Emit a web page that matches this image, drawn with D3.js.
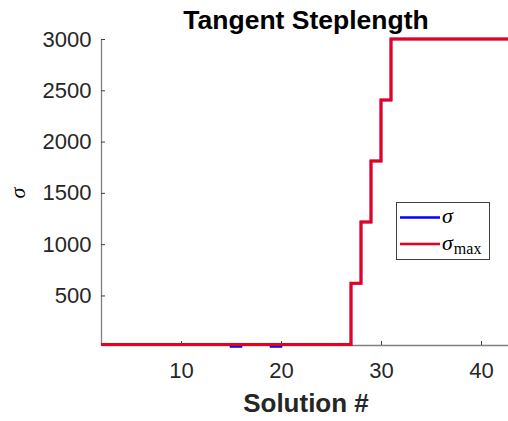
<!DOCTYPE html>
<html>
<head>
<meta charset="utf-8">
<script src="https://cdn.jsdelivr.net/npm/d3@7"></script>
<style>
  body { margin: 0; background: #fff; }
  svg { display: block; }
</style>
</head>
<body>
<script>
// solution numbers and step values (stairs: value holds until next solution)
var solutions = [2, 3, 4, 5, 6, 7, 8, 9, 10, 11, 12, 13, 14, 15, 16, 17, 18, 19, 20, 21, 22,
                 23, 24, 25, 26, 27, 28, 29, 30, 31, 32, 33, 34, 35, 36, 37, 38, 39, 40, 41, 42, 43];
var sigmaMax = [22, 22, 22, 22, 22, 22, 22, 22, 22, 22, 22, 22, 22, 22, 22, 22, 22, 22, 22, 22, 22,
                22, 22, 22, 22, 620, 1215, 1810, 2405, 3000, 3000, 3000, 3000, 3000, 3000, 3000, 3000, 3000, 3000, 3000, 3000, 3000];
var sigma = [22, 22, 22, 22, 22, 22, 22, 22, 22, 22, 22, 22, 22, 3, 22, 22, 22, 3, 22, 22, 22,
             22, 22, 22, 22, 620, 1215, 1810, 2405, 3000, 3000, 3000, 3000, 3000, 3000, 3000, 3000, 3000, 3000, 3000, 3000, 3000];
var xTicks = [10, 20, 30, 40];
var yTicks = [500, 1000, 1500, 2000, 2500, 3000];

var width = 508, height = 421;
var plotLeft = 101, plotRight = 511, plotTop = 39, plotBottom = 345;

var svg = d3.select("body").append("svg")
    .attr("width", width)
    .attr("height", height);

var x = d3.scaleLinear().domain([2, 43]).range([plotLeft, plotRight]);
var y = d3.scaleLinear().domain([17, 3000]).range([plotBottom, plotTop]);

var line = d3.line()
    .x(function(d) { return x(d[0]); })
    .y(function(d) { return y(d[1]); })
    .curve(d3.curveStepAfter);

function pts(vals) {
    return solutions.map(function(s, i) { return [s, vals[i]]; });
}

// axes
var xAxis = svg.append("g")
    .attr("transform", "translate(0," + plotBottom + ")")
    .call(d3.axisBottom(x).tickValues(xTicks).tickFormat(d3.format("d"))
        .tickSizeInner(-4).tickSizeOuter(0));
var yAxis = svg.append("g")
    .attr("transform", "translate(" + plotLeft + ",0)")
    .call(d3.axisLeft(y).tickValues(yTicks).tickFormat(d3.format("d"))
        .tickSizeInner(-4).tickSizeOuter(0).tickPadding(9));

[xAxis, yAxis].forEach(function(g) {
    g.attr("font-size", null).attr("font-family", null);
    g.select(".domain").attr("stroke", "#808080").attr("stroke-width", 1.3);
    g.selectAll(".tick line").attr("stroke", "#404040");
    g.selectAll(".tick text")
        .attr("fill", "#262626")
        .style("font-family", "'Liberation Sans', Arial, sans-serif")
        .style("font-size", "22px");
});
xAxis.selectAll(".tick text").attr("y", 33).attr("dy", 0);
yAxis.selectAll(".tick text").attr("x", -9.5);

// data lines on top of the axes
svg.append("path")
    .attr("d", line(pts(sigma)))
    .attr("fill", "none")
    .attr("stroke", "#0000ff")
    .attr("stroke-width", 2.5);

svg.append("path")
    .attr("d", line(pts(sigmaMax)))
    .attr("fill", "none")
    .attr("stroke", "#e8001c")
    .attr("stroke-width", 3);

// title and labels
svg.append("text")
    .attr("x", (plotLeft + plotRight) / 2)
    .attr("y", 29)
    .attr("text-anchor", "middle")
    .style("font-family", "'Liberation Sans', Arial, sans-serif")
    .style("font-size", "26.5px")
    .style("font-weight", "bold")
    .text("Tangent Steplength");

svg.append("text")
    .attr("x", (plotLeft + plotRight) / 2)
    .attr("y", 411.5)
    .attr("text-anchor", "middle")
    .attr("fill", "#262626")
    .style("font-family", "'Liberation Sans', Arial, sans-serif")
    .style("font-size", "26px")
    .style("font-weight", "bold")
    .text("Solution #");

svg.append("text")
    .attr("transform", "translate(25,193) rotate(-90)")
    .attr("text-anchor", "middle")
    .style("font-family", "'Liberation Serif', serif")
    .style("font-style", "italic")
    .style("font-size", "22px")
    .text("σ");

// legend
var legend = svg.append("g");
legend.append("rect")
    .attr("x", 396.5).attr("y", 202.5)
    .attr("width", 93).attr("height", 57)
    .attr("fill", "#fff")
    .attr("stroke", "#404040")
    .attr("stroke-width", 1);

var items = [{ color: "#0000ff", sub: "" }, { color: "#e8001c", sub: "max" }];
items.forEach(function(it, i) {
    var ly = 217.5 + i * 26.5;
    legend.append("line")
        .attr("x1", 400).attr("x2", 440)
        .attr("y1", ly).attr("y2", ly)
        .attr("stroke", it.color)
        .attr("stroke-width", 2.5);
    var t = legend.append("text")
        .attr("x", 442)
        .attr("y", ly + 5.5)
        .style("font-family", "'Liberation Serif', serif")
        .style("font-size", "22px");
    t.append("tspan").style("font-style", "italic").text("σ");
    if (it.sub) {
        t.append("tspan").attr("dx", 1).attr("dy", 4).style("font-size", "16px").text(it.sub);
    }
});
</script>
</body>
</html>
